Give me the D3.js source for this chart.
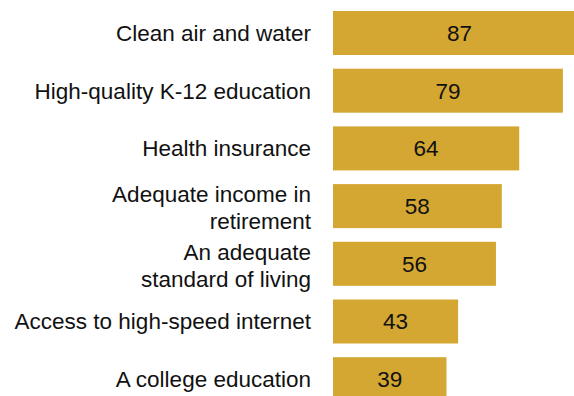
<!DOCTYPE html>
<html>
<head>
<meta charset="utf-8">
<script src="https://cdn.jsdelivr.net/npm/d3@7"></script>
<style>
  html, body { margin: 0; padding: 0; background: #fff; }
  svg { display: block; }
  text { font-family: "Liberation Sans", Arial, sans-serif; fill: #111; }
</style>
</head>
<body>
<script>
// Share saying each item is a top priority
const categories = [
  ["Clean air and water"],
  ["High-quality K-12 education"],
  ["Health insurance"],
  ["Adequate income in", "retirement"],
  ["An adequate", "standard of living"],
  ["Access to high-speed internet"],
  ["A college education"]
];
const values = [87, 79, 64, 58, 56, 43, 39];

const width = 574, height = 396;
const barLeft = 333;

const svg = d3.select("body").append("svg")
  .attr("width", width)
  .attr("height", height);

const x = d3.scaleLinear().domain([0, 100]).range([barLeft, barLeft + 291]);
const y = d3.scaleBand()
  .domain(d3.range(values.length))
  .range([11, 401.2])
  .paddingInner(0.2374)
  .paddingOuter(0);

const rows = svg.selectAll("g.row")
  .data(values.map((v, i) => ({ v, i, label: categories[i] })))
  .join("g")
  .attr("class", "row");

rows.append("rect")
  .attr("x", x(0))
  .attr("y", d => y(d.i))
  .attr("width", d => x(d.v) - x(0))
  .attr("height", y.bandwidth())
  .attr("fill", "#D3A731");

rows.append("text")
  .attr("x", d => (x(0) + x(d.v)) / 2)
  .attr("y", d => y(d.i) + y.bandwidth() / 2 + 8)
  .attr("text-anchor", "middle")
  .attr("font-size", 22.5)
  .text(d => d.v);

rows.append("text")
  .attr("text-anchor", "end")
  .attr("font-size", 22.5)
  .each(function(d) {
    const t = d3.select(this);
    const n = d.label.length;
    const cy = y(d.i) + y.bandwidth() / 2 + (n > 1 ? 9.5 : 8);
    d.label.forEach((line, k) => {
      t.append("tspan")
        .attr("x", 311)
        .attr("y", cy + (k - (n - 1) / 2) * 27)
        .text(line);
    });
  });
</script>
</body>
</html>
